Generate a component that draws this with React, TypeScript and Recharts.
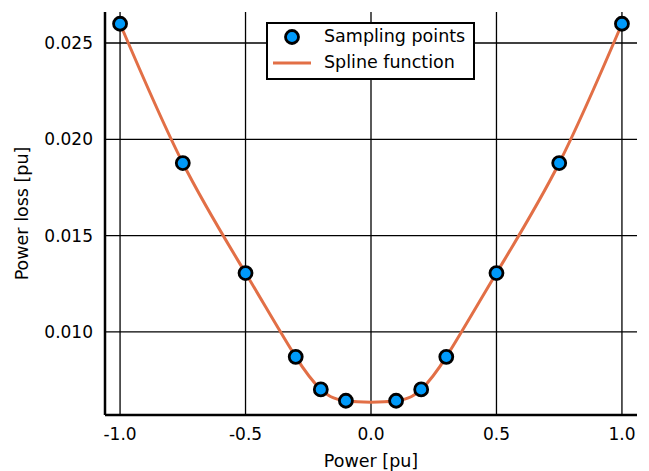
import { CartesianGrid, ComposedChart, Line, Scatter, XAxis, YAxis } from 'recharts';

const powerPu = [-1.0, -0.75, -0.5, -0.3, -0.2, -0.1, 0.1, 0.2, 0.3, 0.5, 0.75, 1.0];
const lossPu = [0.0260, 0.01877, 0.01306, 0.00871, 0.00702, 0.00643, 0.00643, 0.00702, 0.00871, 0.01306, 0.01877, 0.0260];
const xTicks = [-1.0, -0.5, 0.0, 0.5, 1.0];
const yTicks = [0.01, 0.015, 0.02, 0.025];
const xDomain = [-1.06, 1.06];
const yDomain = [0.00569, 0.02661];

const BLUE = '#009AFA';
const ORANGE = '#E26F46';
const FONT = 'DejaVu Sans';

const data = powerPu.map((x, i) => ({ x, y: lossPu[i] }));

// grid only at the tick values (no lines on the plot edges)
function hLines({ offset }: any) {
  return yTicks.map((t) => offset.top + (offset.height * (yDomain[1] - t)) / (yDomain[1] - yDomain[0]));
}
function vLines({ offset }: any) {
  return xTicks.map((t) => offset.left + (offset.width * (t - xDomain[0])) / (xDomain[1] - xDomain[0]));
}

function LegendBox() {
  return (
    <div
      style={{
        position: 'absolute',
        left: 266,
        top: 22,
        width: 205,
        height: 54,
        border: '2px solid #000',
        background: '#fff',
        fontFamily: FONT,
        fontSize: 17.5,
        color: '#000',
        boxSizing: 'content-box',
      }}
    >
      <svg width={50} height={54} style={{ position: 'absolute', left: 0, top: 0 }}>
        <circle cx={24} cy={13} r={6.5} fill={BLUE} stroke="#000" strokeWidth={2.8} />
        <line x1={5} x2={43} y1={39} y2={39} stroke={ORANGE} strokeWidth={3} />
      </svg>
      <div style={{ position: 'absolute', left: 56, top: 2, whiteSpace: 'nowrap' }}>Sampling points</div>
      <div style={{ position: 'absolute', left: 56, top: 28, whiteSpace: 'nowrap' }}>Spline function</div>
    </div>
  );
}

export default function App() {
  return (
    <div style={{ position: 'relative', width: 649, height: 471, background: '#fff' }}>
      <style>{`body{margin:0}`}</style>
      <ComposedChart width={649} height={471} data={data} margin={{ top: 12, right: 12, bottom: 0, left: 0 }}>
        <CartesianGrid
          stroke="#000"
          strokeWidth={1.3}
          horizontalCoordinatesGenerator={hLines}
          verticalCoordinatesGenerator={vLines}
        />
        <XAxis
          type="number"
          dataKey="x"
          domain={xDomain}
          ticks={xTicks}
          tickFormatter={(v: number) => v.toFixed(1)}
          allowDataOverflow
          height={56}
          tickLine={false}
          tickSize={0}
          tickMargin={13}
          axisLine={{ stroke: '#000', strokeWidth: 2.5 }}
          tick={{ fill: '#000', fontSize: 17, fontFamily: FONT }}
          label={{ value: 'Power [pu]', position: 'insideBottom', offset: 4, fill: '#000', fontSize: 17.5, fontFamily: FONT }}
        />
        <YAxis
          type="number"
          domain={yDomain}
          ticks={yTicks}
          tickFormatter={(v: number) => v.toFixed(3)}
          allowDataOverflow
          width={105}
          tickLine={false}
          tickSize={0}
          tickMargin={12}
          axisLine={{ stroke: '#000', strokeWidth: 2.5 }}
          tick={{ fill: '#000', fontSize: 17, fontFamily: FONT }}
          label={{
            value: 'Power loss [pu]',
            angle: -90,
            position: 'insideLeft',
            offset: 22,
            fill: '#000',
            fontSize: 17.5,
            fontFamily: FONT,
            style: { textAnchor: 'middle' },
          }}
        />
        <Scatter
          dataKey="y"
          fill={BLUE}
          stroke="#000"
          strokeWidth={2.8}
          isAnimationActive={false}
          shape={(p: any) => <circle cx={p.cx} cy={p.cy} r={6.5} fill={BLUE} stroke="#000" strokeWidth={2.8} />}
        />
        <Line
          type="natural"
          dataKey="y"
          stroke={ORANGE}
          strokeWidth={3}
          dot={false}
          activeDot={false}
          isAnimationActive={false}
        />
      </ComposedChart>
      <LegendBox />
    </div>
  );
}
